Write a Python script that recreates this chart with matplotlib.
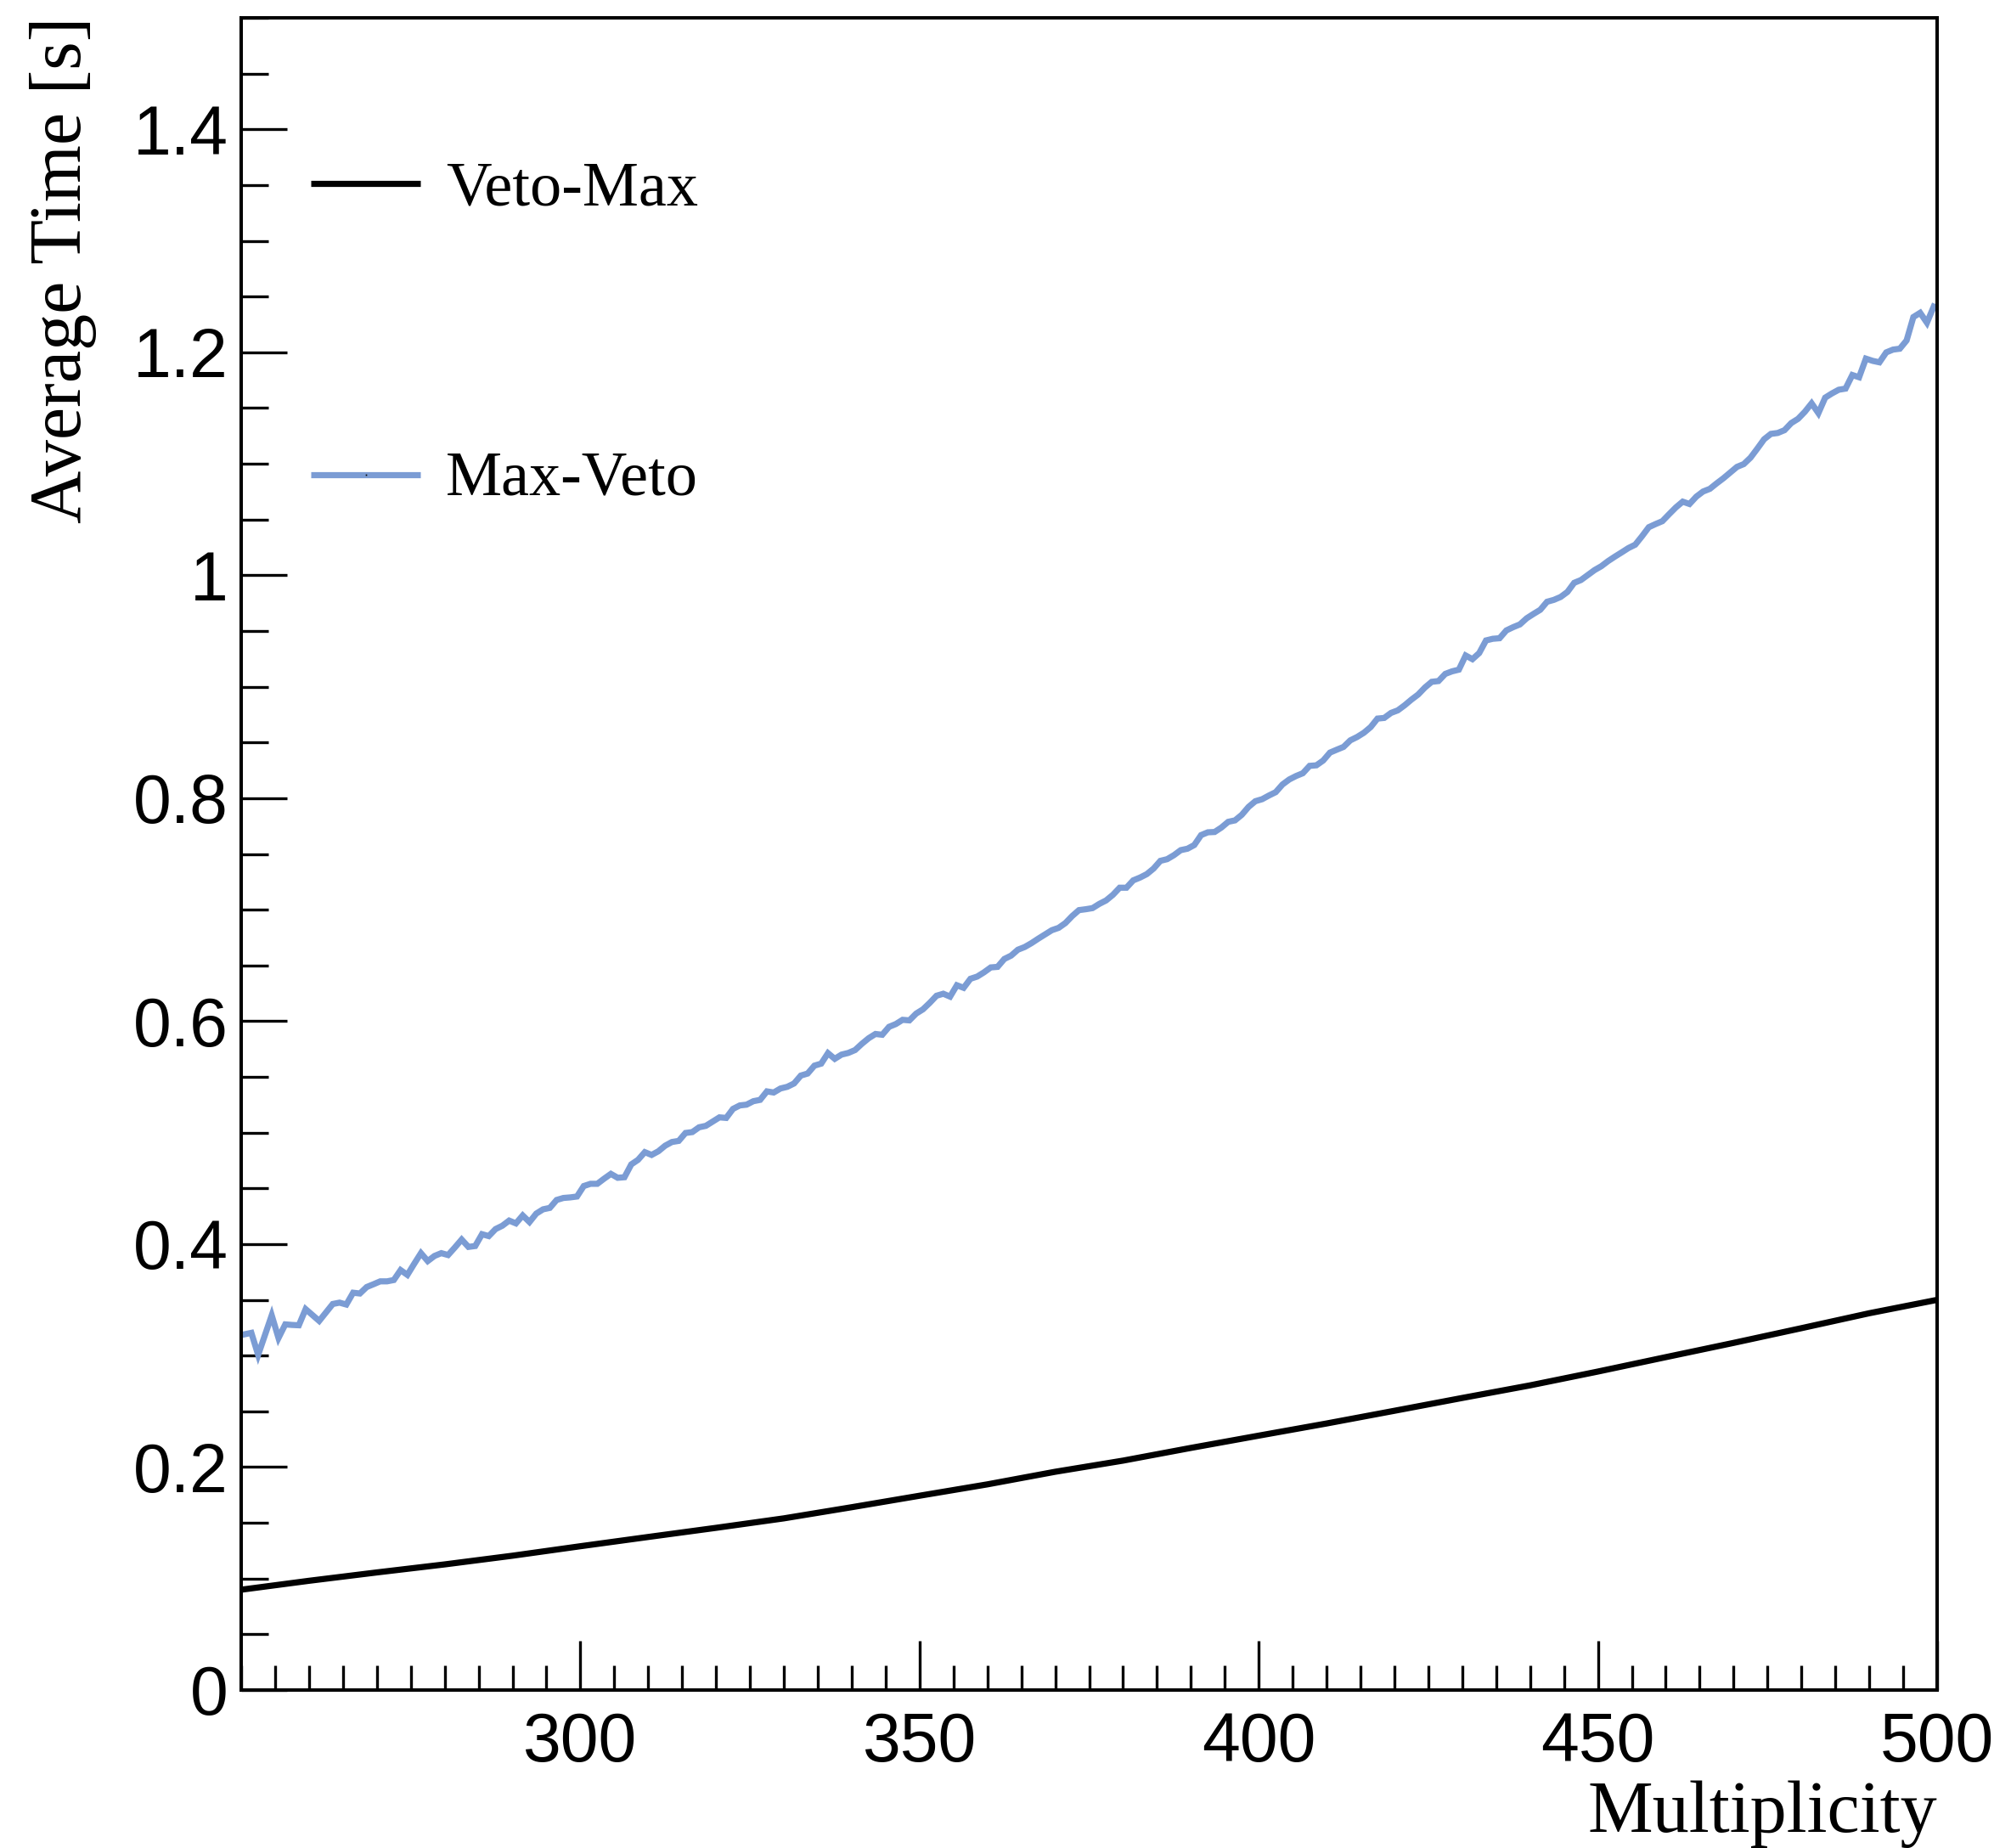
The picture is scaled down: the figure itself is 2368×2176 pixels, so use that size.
import numpy as np
import matplotlib
matplotlib.use("Agg")
import matplotlib.pyplot as plt
from matplotlib.ticker import MultipleLocator, FixedLocator, FixedFormatter

# data (bin centres 250.5 ... 499.5)
mult = np.arange(250.5, 500.0, 1.0)
max_veto = [
    0.3191, 0.3204, 0.3006, 0.3184, 0.3361, 0.3158, 0.3280, 0.3275, 0.3272, 0.3417,
    0.3364, 0.3311, 0.3387, 0.3463, 0.3475, 0.3458, 0.3564, 0.3557, 0.3615, 0.3640,
    0.3666, 0.3666, 0.3678, 0.3767, 0.3724, 0.3823, 0.3919, 0.3848, 0.3894, 0.3919,
    0.3902, 0.3970, 0.4041, 0.3975, 0.3983, 0.4089, 0.4072, 0.4135, 0.4165, 0.4211,
    0.4186, 0.4257, 0.4198, 0.4274, 0.4312, 0.4325, 0.4396, 0.4414, 0.4419, 0.4427,
    0.4521, 0.4541, 0.4541, 0.4587, 0.4630, 0.4595, 0.4600, 0.4715, 0.4756, 0.4825,
    0.4800, 0.4833, 0.4883, 0.4916, 0.4926, 0.4997, 0.5005, 0.5048, 0.5061, 0.5099,
    0.5137, 0.5132, 0.5213, 0.5244, 0.5251, 0.5282, 0.5294, 0.5370, 0.5360, 0.5396,
    0.5411, 0.5441, 0.5512, 0.5530, 0.5601, 0.5619, 0.5713, 0.5662, 0.5700, 0.5715,
    0.5741, 0.5797, 0.5847, 0.5885, 0.5878, 0.5949, 0.5974, 0.6012, 0.6007, 0.6068,
    0.6106, 0.6164, 0.6228, 0.6246, 0.6220, 0.6322, 0.6299, 0.6380, 0.6400, 0.6438,
    0.6482, 0.6487, 0.6558, 0.6588, 0.6641, 0.6665, 0.6700, 0.6740, 0.6778, 0.6816,
    0.6837, 0.6880, 0.6943, 0.6996, 0.7004, 0.7014, 0.7052, 0.7083, 0.7133, 0.7197,
    0.7197, 0.7263, 0.7288, 0.7319, 0.7369, 0.7438, 0.7453, 0.7489, 0.7534, 0.7547,
    0.7580, 0.7669, 0.7694, 0.7697, 0.7737, 0.7788, 0.7801, 0.7851, 0.7922, 0.7973,
    0.7991, 0.8024, 0.8054, 0.8123, 0.8168, 0.8199, 0.8224, 0.8290, 0.8295, 0.8338,
    0.8409, 0.8435, 0.8460, 0.8519, 0.8549, 0.8587, 0.8638, 0.8714, 0.8720, 0.8765,
    0.8788, 0.8833, 0.8884, 0.8930, 0.8993, 0.9044, 0.9051, 0.9115, 0.9138, 0.9153,
    0.9280, 0.9247, 0.9302, 0.9415, 0.9430, 0.9435, 0.9505, 0.9534, 0.9559, 0.9614,
    0.9653, 0.9690, 0.9762, 0.9779, 0.9805, 0.9850, 0.9932, 0.9957, 1.0002, 1.0046,
    1.0081, 1.0127, 1.0167, 1.0205, 1.0244, 1.0274, 1.0350, 1.0431, 1.0459, 1.0485,
    1.0548, 1.0609, 1.0660, 1.0639, 1.0705, 1.0751, 1.0775, 1.0824, 1.0870, 1.0921,
    1.0972, 1.0997, 1.1055, 1.1136, 1.1220, 1.1268, 1.1276, 1.1301, 1.1365, 1.1403,
    1.1466, 1.1542, 1.1454, 1.1593, 1.1631, 1.1664, 1.1674, 1.1796, 1.1776, 1.1943,
    1.1923, 1.1910, 1.1999, 1.2024, 1.2032, 1.2106, 1.2316, 1.2354, 1.2265, 1.2410,
]

veto_mult = [250, 260, 270, 280, 290, 300, 310, 320, 330, 340, 350, 360, 370,
             380, 390, 400, 410, 420, 430, 440, 450, 460, 470, 480, 490, 500]
veto_max = [0.0900, 0.0980, 0.1055, 0.1127, 0.1205, 0.1290, 0.1373, 0.1455, 0.1540,
            0.1640, 0.1743, 0.1845, 0.1958, 0.2058, 0.2172, 0.2282, 0.2391, 0.2505,
            0.2620, 0.2733, 0.2857, 0.2986, 0.3114, 0.3246, 0.3380, 0.3500]

x_ticks = [300, 350, 400, 450, 500]
x_labels = ["300", "350", "400", "450", "500"]
y_ticks = [0, 0.2, 0.4, 0.6, 0.8, 1.0, 1.2, 1.4]
y_labels = ["0", "0.2", "0.4", "0.6", "0.8", "1", "1.2", "1.4"]

blue = "#7b9cd4"
sans = "Liberation Sans"
serif = "Liberation Serif"
lw = 5.2

W, H = 2368, 2176
fig = plt.figure(figsize=(W / 100, H / 100), dpi=100)
ax = fig.add_axes([284 / W, 1 - 1990 / H, 1997 / W, 1969 / H])

ax.plot(veto_mult, veto_max, color="black", lw=lw, solid_joinstyle="miter")
ax.plot(mult, max_veto, color=blue, lw=lw, solid_joinstyle="miter")

ax.set_xlim(250, 500)
ax.set_ylim(0, 1.5)

# ROOT-like axes
ax.xaxis.set_major_locator(FixedLocator(x_ticks))
ax.xaxis.set_major_formatter(FixedFormatter(x_labels))
ax.xaxis.set_minor_locator(MultipleLocator(5))
ax.yaxis.set_major_locator(FixedLocator(y_ticks))
ax.yaxis.set_major_formatter(FixedFormatter(y_labels))
ax.yaxis.set_minor_locator(MultipleLocator(0.05))

ax.tick_params(which="both", direction="in", top=False, right=False, width=2.4)
ax.tick_params(axis="x", which="major", length=42, pad=18)
ax.tick_params(axis="x", which="minor", length=21)
ax.tick_params(axis="y", which="major", length=39, pad=11)
ax.tick_params(axis="y", which="minor", length=23)
for lab in ax.get_xticklabels() + ax.get_yticklabels():
    lab.set_fontfamily(sans)
    lab.set_fontsize(58)
for sp in ax.spines.values():
    sp.set_linewidth(2.9)

# axis titles (Times-like)
fig.text(2281.6 / W, 1 - 2157 / H, "Multiplicity", family=serif, fontsize=62,
         ha="right", va="baseline")
fig.text(95 / W, 1 - 19 / H, "Average Time [s]", family=serif, fontsize=62,
         rotation=90, rotation_mode="anchor", ha="right", va="baseline")

# legend entries
ax.plot([0.0411, 0.1057], [0.9010, 0.9010], transform=ax.transAxes,
        color="black", lw=lw, solid_capstyle="butt")
ax.text(0.1207, 0.8878, "Veto-Max", transform=ax.transAxes, family=serif,
        fontsize=53.5, ha="left", va="baseline")
ax.plot([0.0411, 0.1057], [0.7268, 0.7268], transform=ax.transAxes,
        color=blue, lw=lw, solid_capstyle="butt")
ax.plot([0.0734], [0.7268], transform=ax.transAxes, marker="s", ms=1.2,
        color="black", mew=0)
ax.text(0.1207, 0.7148, "Max-Veto", transform=ax.transAxes, family=serif,
        fontsize=53.5, ha="left", va="baseline")

fig.savefig("out.png", dpi=100, facecolor="white")
